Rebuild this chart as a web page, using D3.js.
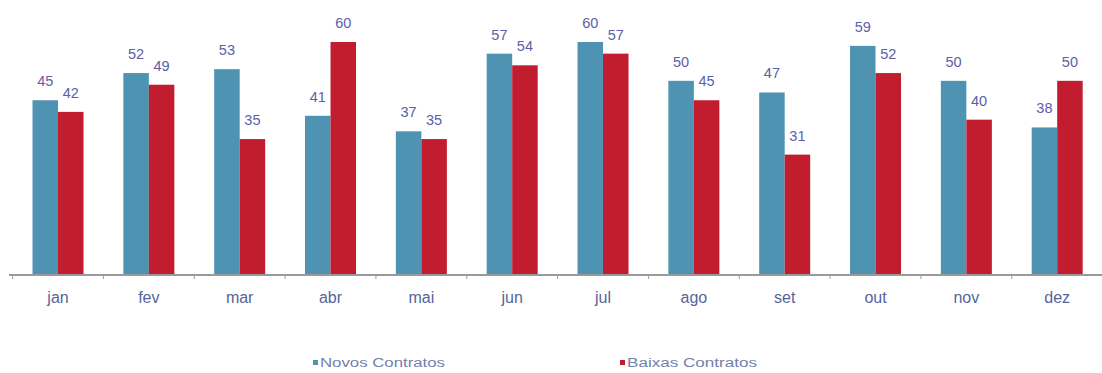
<!DOCTYPE html>
<html>
<head>
<meta charset="utf-8">
<script src="https://cdn.jsdelivr.net/npm/d3@7"></script>
<style>
  html, body { margin: 0; padding: 0; background: #fff; }
  svg { display: block; }
</style>
</head>
<body>
<svg id="chart" width="1102" height="373"></svg>
<script>
// Monthly contracts: new vs. terminated
const months = ["jan", "fev", "mar", "abr", "mai", "jun", "jul", "ago", "set", "out", "nov", "dez"];
const novos = [45, 52, 53, 41, 37, 57, 60, 50, 47, 59, 50, 38];
const baixas = [42, 49, 35, 60, 35, 54, 57, 45, 31, 52, 40, 50];
const seriesNames = ["Novos Contratos", "Baixas Contratos"];
const seriesColors = ["#4f93b2", "#c21d2f"];

const svg = d3.select("#chart");
const fontStack = "'Liberation Sans', Arial, sans-serif";

const x0 = d3.scaleBand().domain(months).range([12.6, 1102.6]).padding(0);
const barW = 25.5;
const x1 = d3.scaleBand().domain([0, 1])
  .range([x0.bandwidth() / 2 - barW, x0.bandwidth() / 2 + barW]).padding(0);
const y = d3.scaleLinear().domain([0, 60]).range([275, 42]);

const rows = months.map((m, i) => ({ month: m, values: [novos[i], baixas[i]] }));

const groups = svg.append("g").selectAll("g")
  .data(rows).join("g")
  .attr("transform", d => `translate(${x0(d.month)},0)`);

groups.selectAll("rect")
  .data(d => d.values.map((v, k) => ({ v, k })))
  .join("rect")
  .attr("x", d => x1(d.k))
  .attr("width", x1.bandwidth())
  .attr("y", d => y(d.v))
  .attr("height", d => y(0) - y(d.v))
  .attr("fill", d => seriesColors[d.k]);

groups.selectAll("text.val")
  .data(d => d.values.map((v, k) => ({ v, k })))
  .join("text")
  .attr("class", "val")
  .attr("x", d => x1(d.k) + x1.bandwidth() / 2)
  .attr("y", d => y(d.v) - 14)
  .attr("text-anchor", "middle")
  .attr("font-family", fontStack)
  .attr("font-size", 14.5)
  .attr("fill", "#5c60a8")
  .text(d => d.v);

// x axis: baseline with small ticks between categories
const axisG = svg.append("g").attr("transform", `translate(0,${y(0)})`);
axisG.append("line")
  .attr("x1", 9).attr("x2", 1102)
  .attr("stroke", "#9a9a9a").attr("stroke-width", 2);
axisG.selectAll("line.tick")
  .data(months)
  .join("line")
  .attr("class", "tick")
  .attr("x1", d => x0(d)).attr("x2", d => x0(d))
  .attr("y1", 0).attr("y2", 4)
  .attr("stroke", "#9a9a9a").attr("stroke-width", 1);

svg.append("g").selectAll("text")
  .data(months).join("text")
  .attr("x", d => x0(d) + x0.bandwidth() / 2)
  .attr("y", 303)
  .attr("text-anchor", "middle")
  .attr("font-family", fontStack)
  .attr("font-size", 16)
  .attr("fill", "#55659a")
  .text(d => d);

// legend (horizontally stretched text)
const legendX = [313, 620];
const legendLen = [125, 130];
const legend = svg.append("g").selectAll("g")
  .data(seriesNames).join("g")
  .attr("transform", (d, i) => `translate(${legendX[i]},367)`);
legend.append("rect")
  .attr("x", 0).attr("y", -7).attr("width", 5).attr("height", 5)
  .attr("fill", (d, i) => seriesColors[i]);
legend.append("text")
  .attr("x", 7).attr("y", 0)
  .attr("font-family", fontStack)
  .attr("font-size", 12.5)
  .attr("textLength", (d, i) => legendLen[i])
  .attr("lengthAdjust", "spacingAndGlyphs")
  .attr("fill", "#7380ad")
  .text(d => d);
</script>
</body>
</html>
